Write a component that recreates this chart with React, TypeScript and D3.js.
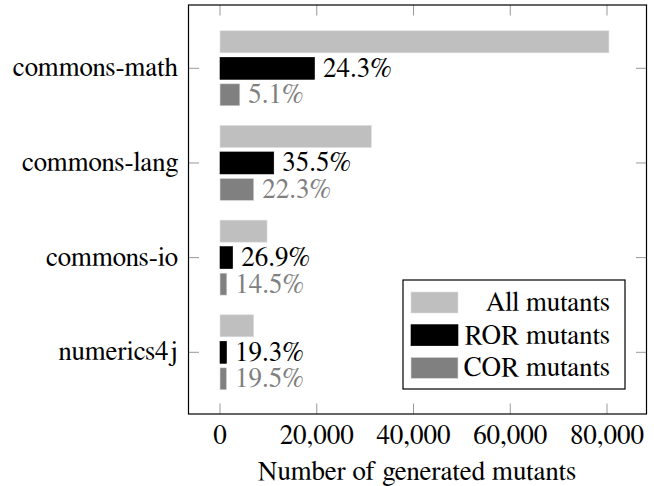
import React from "react";
import * as d3 from "d3";

const categories = ["commons-math", "commons-lang", "commons-io", "numerics4j"];
const seriesNames = ["All mutants", "ROR mutants", "COR mutants"];
const allMutants = [80400, 31280, 9720, 6960];
const rorMutants = [19540, 11110, 2615, 1345];
const corMutants = [4100, 6980, 1410, 1360];
const rorLabels = ["24.3%", "35.5%", "26.9%", "19.3%"];
const corLabels = ["5.1%", "22.3%", "14.5%", "19.5%"];
const xTicks = [0, 20000, 40000, 60000, 80000];
const colors = ["#bfbfbf", "#000000", "#808080"];

const W = 654;
const H = 486;
const box = { left: 188.5, right: 646.5, top: 5, bottom: 414 };
const font = '"FreeSerif", "Liberation Serif", "Times New Roman", serif';

const App: React.FC = () => {
  const x = d3.scaleLinear().domain([0, 80000]).range([220, 607]);
  const y = d3.scalePoint<string>().domain(categories).range([68.3, 352.3]);
  const sub = d3.scaleBand<string>().domain(seriesNames).range([-37.5, 37.5]).paddingInner(0.17);
  const values = [allMutants, rorMutants, corMutants];
  const labels = [null, rorLabels, corLabels];
  const fmt = d3.format(",");
  const tickLen = 10.5;
  const tickColor = "#999";
  const ts = { fontFamily: font, fontSize: 27 };

  return (
    <svg width={W} height={H} style={{ position: "absolute", left: 0, top: 0, fontFamily: font }}>
      <rect width={W} height={H} fill="#fff" />
      {/* x ticks top & bottom */}
      {xTicks.map((t) => (
        <g key={t}>
          <line x1={x(t)} x2={x(t)} y1={box.top} y2={box.top + tickLen} stroke={tickColor} strokeWidth={1} />
          <line x1={x(t)} x2={x(t)} y1={box.bottom} y2={box.bottom - tickLen} stroke={tickColor} strokeWidth={1} />
          <text x={x(t)} y={443.5} textAnchor="middle" style={ts}>
            {fmt(t)}
          </text>
        </g>
      ))}
      {/* y ticks left & right */}
      {categories.map((c) => (
        <g key={c}>
          <line x1={box.left} x2={box.left + tickLen} y1={y(c)} y2={y(c)} stroke={tickColor} strokeWidth={1} />
          <line x1={box.right} x2={box.right - tickLen} y1={y(c)} y2={y(c)} stroke={tickColor} strokeWidth={1} />
          <text x={178} y={(y(c) as number) + 8} textAnchor="end" style={ts}>
            {c}
          </text>
        </g>
      ))}
      {/* bars */}
      {categories.map((c, i) => (
        <g key={c}>
          {seriesNames.map((s, j) => {
            const top = (y(c) as number) + (sub(s) as number);
            const v = values[j][i];
            const lab = labels[j];
            return (
              <g key={s}>
                <rect
                  x={x(0)}
                  y={top}
                  width={x(v) - x(0)}
                  height={sub.bandwidth()}
                  fill={colors[j]}
                  stroke={j === 1 ? "#000" : "#ddd"}
                  strokeWidth={0.6}
                />
                {lab && (
                  <text
                    x={x(v) + 8.5}
                    y={top + sub.bandwidth() / 2 + 8.5}
                    style={ts}
                    fill={j === 1 ? "#000" : "#808080"}
                  >
                    {lab[i]}
                  </text>
                )}
              </g>
            );
          })}
        </g>
      ))}
      {/* frame */}
      <rect
        x={box.left}
        y={box.top}
        width={box.right - box.left}
        height={box.bottom - box.top}
        fill="none"
        stroke="#000"
        strokeWidth={1.2}
      />
      {/* legend */}
      <g>
        <rect x={403} y={280} width={222} height={109} fill="#fff" stroke="#000" strokeWidth={1.2} />
        {seriesNames.map((s, j) => {
          const ly = 292 + j * 32.7;
          return (
            <g key={s}>
              <rect x={411} y={ly} width={47} height={21} fill={colors[j]} stroke={j === 1 ? "#000" : "#ddd"} strokeWidth={0.6} />
              <text x={610} y={ly + 19} textAnchor="end" style={ts}>
                {s}
              </text>
            </g>
          );
        })}
      </g>
      <text x={417} y={480} textAnchor="middle" style={ts}>
        Number of generated mutants
      </text>
    </svg>
  );
};

export default App;
